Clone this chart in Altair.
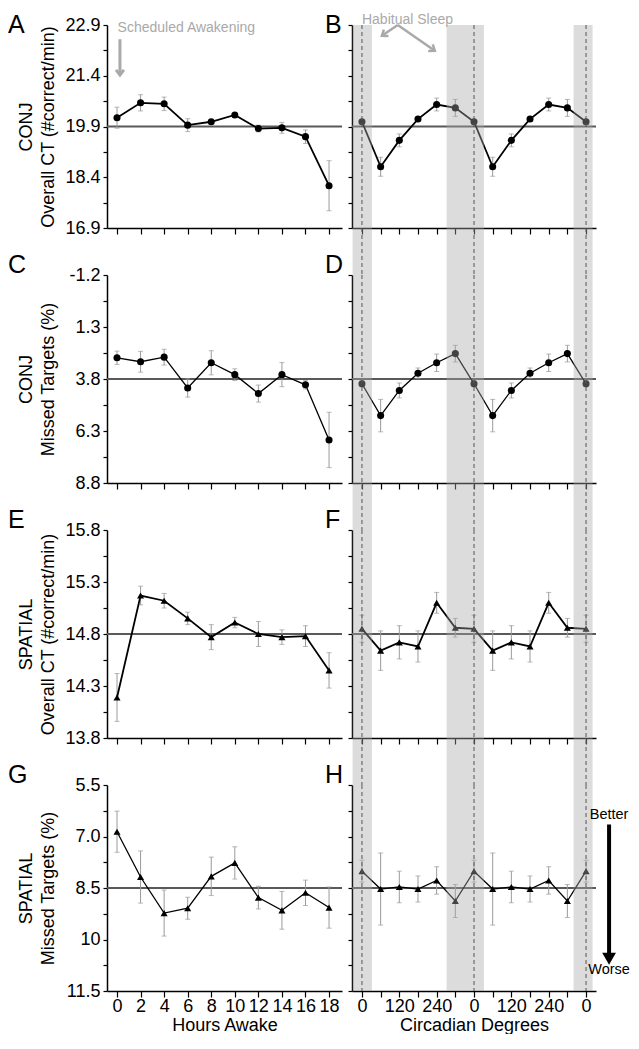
import altair as alt
import pandas as pd

FONT = "Liberation Sans"

# ---------------- data ----------------
hours = [0, 2, 4, 6, 8, 10, 12, 14, 16, 18]
circ_deg = [0, 60, 120, 180, 240, 300, 360, 420, 480, 540, 600, 660, 720]

# CONJ overall CT
conjct_h = [20.16, 20.60, 20.57, 19.94, 20.04, 20.24, 19.84, 19.86, 19.60, 18.15]
conjct_h_se = [0.31, 0.24, 0.20, 0.19, 0.05, 0.05, 0.10, 0.16, 0.20, 0.74]
conjct_c = [20.04, 18.71, 19.49, 20.12, 20.55, 20.45, 20.04, 18.71, 19.49, 20.12, 20.55, 20.45, 20.04]
conjct_c_se = [0.06, 0.28, 0.19, 0.06, 0.19, 0.25, 0.06, 0.28, 0.19, 0.06, 0.19, 0.25, 0.06]
# CONJ missed targets
conjmt_h = [2.78, 2.97, 2.75, 4.23, 3.02, 3.59, 4.50, 3.59, 4.08, 6.73]
conjmt_h_se = [0.32, 0.50, 0.38, 0.44, 0.58, 0.28, 0.41, 0.58, 0.20, 1.33]
conjmt_c = [4.03, 5.56, 4.35, 3.52, 3.02, 2.58, 4.03, 5.56, 4.35, 3.52, 3.02, 2.58, 4.03]
conjmt_c_se = [0.15, 0.78, 0.36, 0.25, 0.42, 0.40, 0.15, 0.78, 0.36, 0.25, 0.42, 0.40, 0.15]
# SPATIAL overall CT
spct_h = [14.19, 15.17, 15.12, 14.95, 14.77, 14.91, 14.80, 14.77, 14.78, 14.45]
spct_h_se = [0.23, 0.09, 0.07, 0.06, 0.12, 0.05, 0.12, 0.07, 0.10, 0.17]
spct_c = [14.85, 14.64, 14.72, 14.68, 15.10, 14.86, 14.85, 14.64, 14.72, 14.68, 15.10, 14.86, 14.85]
spct_c_se = [0.13, 0.19, 0.16, 0.15, 0.10, 0.09, 0.13, 0.19, 0.16, 0.15, 0.10, 0.09, 0.13]
# SPATIAL missed targets
spmt_h = [6.86, 8.18, 9.23, 9.09, 8.16, 7.77, 8.78, 9.15, 8.64, 9.07]
spmt_h_se = [0.60, 0.76, 0.67, 0.32, 0.56, 0.47, 0.33, 0.55, 0.37, 0.60]
spmt_c = [8.01, 8.53, 8.47, 8.53, 8.28, 8.88, 8.01, 8.53, 8.47, 8.53, 8.28, 8.88, 8.01]
spmt_c_se = [0.32, 1.05, 0.46, 0.38, 0.40, 0.48, 0.32, 1.05, 0.46, 0.38, 0.40, 0.48, 0.32]

left_vals = [conjct_h, conjmt_h, spct_h, spmt_h]
left_se = [conjct_h_se, conjmt_h_se, spct_h_se, spmt_h_se]
right_vals = [conjct_c, conjmt_c, spct_c, spmt_c]
right_se = [conjct_c_se, conjmt_c_se, spct_c_se, spmt_c_se]

row_domains = [[16.9, 22.9], [-1.2, 8.8], [13.8, 15.8], [5.5, 11.5]]
row_reverse = [False, True, False, True]
row_refs = [19.9, 3.8, 14.8, 8.5]
row_ticks = [
    [16.9, 17.65, 18.4, 19.15, 19.9, 20.65, 21.4, 22.15, 22.9],
    [-1.2, 0.05, 1.3, 2.55, 3.8, 5.05, 6.3, 7.55, 8.8],
    [13.8, 14.05, 14.3, 14.55, 14.8, 15.05, 15.3, 15.55, 15.8],
    [5.5, 6.25, 7.0, 7.75, 8.5, 9.25, 10, 10.75, 11.5],
]
row_labels = [
    ["16.9", "", "18.4", "", "19.9", "", "21.4", "", "22.9"],
    ["-1.2", "", "1.3", "", "3.8", "", "6.3", "", "8.8"],
    ["13.8", "", "14.3", "", "14.8", "", "15.3", "", "15.8"],
    ["5.5", "", "7.0", "", "8.5", "", "10", "", "11.5"],
]
row_titles = [
    ["CONJ", "Overall CT (#correct/min)"],
    ["CONJ", "Missed Targets (%)"],
    ["SPATIAL", "Overall CT (#correct/min)"],
    ["SPATIAL", "Missed Targets (%)"],
]
left_letters = ["A", "C", "E", "G"]
right_letters = ["B", "D", "F", "H"]

band_start = [-30, 272, 680]
band_end = [32, 392, 741]
dash_deg = [0, 360, 720]

# annotations
sched_text = ["Scheduled Awakening"]
sched_x = [0.05]
sched_y = [22.70]
sched_arrow_x = [0.25]
sched_arrow_y1 = [22.48]
sched_arrow_y2 = [21.42]

sleep_text = ["Habitual Sleep"]
sleep_x = [0]
sleep_y = [23.26]
sleep_arrow_x1 = [115, 115]
sleep_arrow_y1 = [22.90, 22.90]
sleep_arrow_x2 = [64, 234]
sleep_arrow_y2 = [22.58, 22.14]
sleep_arrow_angle = [55, 305]

bw_text = ["Better", "Worse"]
bw_x = [794, 794]
bw_y = [6.38, 10.88]
bw_shaft_y1 = [6.65]
bw_shaft_y2 = [10.45]
bw_head_y = [10.56]

# ---------------- layout ----------------
row_heights = [203, 208, 208, 206]
ROW_GAP = 47
LEFT_W = 235
RIGHT_W = 244
HOUR_DOMAIN = [-0.85, 19.1]
DEG_DOMAIN = [-32, 752]
LETTER_DY = [-12, -22, -22, -22]
TOP_SPACER = -16

CHEVRON = "M-0.75,-1L0,0L0.75,-1"
GREY_ANN = "#a9a9a9"


def lab_expr(vals, labs):
    e = "''"
    for v, l in reversed(list(zip(vals, labs))):
        if l:
            e = f"round(datum.value*100)=={round(v * 100)} ? '{l}' : ({e})"
    return e


def make_y(i, right, field="v"):
    h = row_heights[i]
    if right:
        ax = alt.Axis(values=row_ticks[i], labels=False, title=None, tickSize=4,
                      grid=False)
    else:
        ax = alt.Axis(values=row_ticks[i], labelExpr=lab_expr(row_ticks[i], row_labels[i]),
                      title=row_titles[i], titleX=-72, titleY=h / 2, titleAngle=270,
                      titleAlign="center", titleBaseline="bottom", titleLineHeight=22,
                      labelPadding=3, tickSize=4, grid=False)
    return alt.Y(f"{field}:Q",
                 scale=alt.Scale(domain=row_domains[i], reverse=row_reverse[i],
                                 nice=False, zero=False),
                 axis=ax)


def make_x(i, right, field="x"):
    bottom = i == 3
    if right:
        if bottom:
            ax = alt.Axis(values=circ_deg, title="Circadian Degrees", tickSize=6,
                          labelExpr="datum.value % 120 == 0 ? '' + (datum.value % 360) : ''",
                          labelPadding=0, titlePadding=1, grid=False, labelFlush=False)
        else:
            ax = alt.Axis(values=circ_deg, title=None, labels=False, tickSize=6, grid=False)
        return alt.X(f"{field}:Q", scale=alt.Scale(domain=DEG_DOMAIN, nice=False, zero=False),
                     axis=ax)
    if bottom:
        ax = alt.Axis(values=hours, title="Hours Awake", tickSize=6, format="d",
                      labelPadding=0, titlePadding=1, grid=False, labelFlush=False)
    else:
        ax = alt.Axis(values=hours, title=None, labels=False, tickSize=6, grid=False)
    return alt.X(f"{field}:Q", scale=alt.Scale(domain=HOUR_DOMAIN, nice=False, zero=False),
                 axis=ax)


def data_layers(i, right, xs, vals, se):
    df = pd.DataFrame({
        "x": xs,
        "v": vals,
        "lo": [a - b for a, b in zip(vals, se)],
        "hi": [a + b for a, b in zip(vals, se)],
    })
    X = make_x(i, right)
    base = alt.Chart(df)
    shape = "circle" if i < 2 else "triangle-up"
    lw = 1.8 if i in (0, 2) else 1.3
    ref = alt.Chart(pd.DataFrame({"v": [row_refs[i]]})).mark_rule(
        color="#595959", strokeWidth=1.8).encode(y=make_y(i, right))
    err = base.mark_rule(color="#9a9a9a", strokeWidth=1).encode(
        x=X, y=make_y(i, right, "lo"), y2=alt.Y2("hi:Q"))
    cap_lo = base.mark_tick(orient="horizontal", size=5, thickness=1, color="#9a9a9a").encode(
        x=X, y=make_y(i, right, "lo"))
    cap_hi = base.mark_tick(orient="horizontal", size=5, thickness=1, color="#9a9a9a").encode(
        x=X, y=make_y(i, right, "hi"))
    line = base.mark_line(color="black", strokeWidth=lw).encode(x=X, y=make_y(i, right))
    pts = base.mark_point(filled=True, shape=shape, size=50, color="black", opacity=1).encode(
        x=X, y=make_y(i, right))
    return [ref, err, cap_lo, cap_hi, line, pts]


def letter_layer(text, dx, dy):
    return alt.Chart(pd.DataFrame({"t": [text]})).mark_text(
        align="left", baseline="top", fontSize=25, font=FONT, color="black"
    ).encode(x=alt.value(dx), y=alt.value(dy), text="t:N")


def left_panel(i):
    layers = data_layers(i, False, hours, left_vals[i], left_se[i])
    layers.append(letter_layer(left_letters[i], -99, LETTER_DY[i]))
    if i == 0:
        X = make_x(0, False)
        # white spacer so the top-row texts keep a little room above them
        spacer = alt.Chart(pd.DataFrame({"t": [0]})).mark_rule(
            color="white", strokeWidth=1).encode(
            x=alt.value(0), x2=alt.value(1), y=alt.value(TOP_SPACER))
        t = alt.Chart(pd.DataFrame({"x": sched_x, "v": sched_y, "t": sched_text})).mark_text(
            align="left", baseline="alphabetic", fontSize=14, font=FONT, color=GREY_ANN
        ).encode(x=X, y=make_y(0, False), text="t:N")
        adf = pd.DataFrame({"x": sched_arrow_x, "v": sched_arrow_y1, "v2": sched_arrow_y2})
        shaft = alt.Chart(adf).mark_rule(color=GREY_ANN, strokeWidth=3).encode(
            x=X, y=make_y(0, False), y2=alt.Y2("v2:Q"))
        head = alt.Chart(adf).mark_point(shape=CHEVRON, size=110, strokeWidth=3,
                                         color=GREY_ANN, filled=False, opacity=1).encode(
            x=X, y=make_y(0, False, "v2"))
        layers += [spacer, t, shaft, head]
    return alt.layer(*layers).properties(width=LEFT_W, height=row_heights[i])


def right_panel(i):
    h = row_heights[i]
    ext = ROW_GAP if i < 3 else 0
    X = make_x(i, True)
    layers = data_layers(i, True, circ_deg, right_vals[i], right_se[i])
    bands = alt.Chart(pd.DataFrame({"x": band_start, "x2": band_end})).mark_rect(
        color="#a8a8a8", opacity=0.4).encode(
        x=X, x2=alt.X2("x2:Q"), y=alt.value(0), y2=alt.value(h + ext))
    dashes = alt.Chart(pd.DataFrame({"x": dash_deg})).mark_rule(
        color="#555555", strokeWidth=1, strokeDash=[4, 3]).encode(
        x=X, y=alt.value(0), y2=alt.value(h + ext))
    layers += [bands, dashes, letter_layer(right_letters[i], -27, LETTER_DY[i])]
    if i == 0:
        t = alt.Chart(pd.DataFrame({"x": sleep_x, "v": sleep_y, "t": sleep_text})).mark_text(
            align="left", baseline="top", fontSize=14, font=FONT, color=GREY_ANN
        ).encode(x=X, y=make_y(0, True), text="t:N")
        adf = pd.DataFrame({"x": sleep_arrow_x1, "v": sleep_arrow_y1,
                            "x2": sleep_arrow_x2, "v2": sleep_arrow_y2,
                            "a": sleep_arrow_angle})
        shafts = alt.Chart(adf).mark_rule(color=GREY_ANN, strokeWidth=2.5).encode(
            x=X, y=make_y(0, True), x2=alt.X2("x2:Q"), y2=alt.Y2("v2:Q"))
        heads = alt.Chart(adf).mark_point(shape=CHEVRON, size=110, strokeWidth=2.5,
                                          color=GREY_ANN, filled=False, opacity=1).encode(
            x=make_x(0, True, "x2"), y=make_y(0, True, "v2"),
            angle=alt.Angle("a:Q", scale=None))
        layers += [t, shafts, heads]
    if i == 3:
        tdf = pd.DataFrame({"x": bw_x, "v": bw_y, "t": bw_text})
        t = alt.Chart(tdf).mark_text(align="center", baseline="middle", fontSize=14.5,
                                     font=FONT, color="black").encode(
            x=X, y=make_y(3, True), text="t:N")
        sdf = pd.DataFrame({"x": bw_x[:1], "v": bw_shaft_y1, "v2": bw_shaft_y2, "vh": bw_head_y})
        shaft = alt.Chart(sdf).mark_rule(color="black", strokeWidth=4).encode(
            x=X, y=make_y(3, True), y2=alt.Y2("v2:Q"))
        head = alt.Chart(sdf).mark_point(shape="triangle-down", size=190, filled=True,
                                         color="black", opacity=1).encode(
            x=X, y=make_y(3, True, "vh"))
        layers += [t, shaft, head]
    return alt.layer(*layers).properties(width=RIGHT_W, height=h)


panels = []
for i in range(4):
    panels.append(left_panel(i))
    panels.append(right_panel(i))

chart = alt.concat(*panels, columns=2, spacing={"row": ROW_GAP, "column": 10},
                   bounds="flush").properties(padding=0).configure_view(
    stroke=None
).configure_axis(
    grid=False, domainColor="black", tickColor="black", labelColor="black",
    titleColor="black", labelFont=FONT, titleFont=FONT, labelFontSize=18,
    titleFontSize=18, titleFontWeight="normal", domainWidth=1.5, tickWidth=1.2
).configure_text(font=FONT)

chart.save("out.html", embed_options={"renderer": "svg", "actions": False})
